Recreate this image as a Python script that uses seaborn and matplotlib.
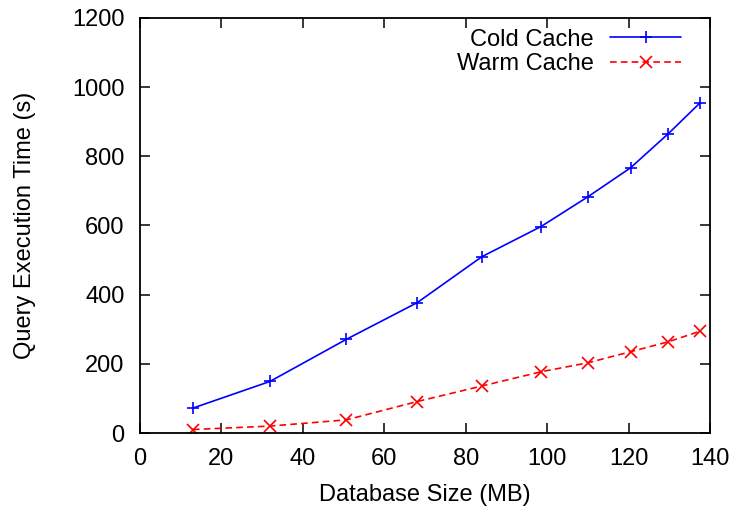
import matplotlib
matplotlib.use("Agg")
import matplotlib.pyplot as plt
import seaborn as sns
import pandas as pd

sizes = [13.0, 31.9, 50.7, 68.1, 84.0, 98.5, 110.0, 120.5, 129.8, 137.5]
cold = [72, 149, 271, 377, 510, 597, 683, 767, 866, 954]
warm = [10, 20, 38, 91, 136, 177, 203, 235, 264, 294]
series_names = ["Cold Cache", "Warm Cache"]
xticks = [0, 20, 40, 60, 80, 100, 120, 140]
yticks = [0, 200, 400, 600, 800, 1000, 1200]

df = pd.DataFrame({
    "size": sizes * 2,
    "time": cold + warm,
    "series": [series_names[0]] * len(sizes) + [series_names[1]] * len(sizes),
})

sns.set_style("ticks")
plt.rcParams["font.family"] = ["Liberation Sans", "DejaVu Sans"]
plt.rcParams["text.color"] = "black"
plt.rcParams["axes.labelcolor"] = "black"

fig = plt.figure(figsize=(7.37, 5.12), dpi=100)
ax = fig.add_axes([140 / 737, 1 - 433 / 512, 570 / 737, 415 / 512])

colors = {"Cold Cache": "#0000ff", "Warm Cache": "#ff0000"}
sns.lineplot(data=df, x="size", y="time", hue="series", style="series",
             palette=colors,
             dashes={"Cold Cache": "", "Warm Cache": (4, 2.5)},
             markers={"Cold Cache": "+", "Warm Cache": "x"},
             markersize=8.5, markeredgewidth=1.2, linewidth=1.2, ax=ax)

for ln in ax.lines:
    ln.set_markeredgecolor(ln.get_color())

ax.set_xlim(0, 140)
ax.set_ylim(0, 1200)
ax.set_xticks(xticks)
ax.set_yticks(yticks)
ax.set_xlabel("Database Size (MB)", fontsize=17, labelpad=10, color="black")
ax.set_ylabel("Query Execution Time (s)", fontsize=17, labelpad=26, color="black")
ax.tick_params(direction="in", length=7, width=1.1, top=True, right=True,
               labelsize=17, colors="black", pad=11)
for s in ax.spines.values():
    s.set_visible(True)
    s.set_linewidth(1.3)
    s.set_color("black")

handles, labels = ax.get_legend_handles_labels()
for h in handles:
    h.set_markeredgecolor(h.get_color())
leg = ax.legend(handles, labels, loc="upper right", frameon=False, markerfirst=False,
                fontsize=17, handlelength=3.0, handletextpad=0.7, borderaxespad=0.0,
                labelspacing=0.1, bbox_to_anchor=(0.966, 0.997))
for t in leg.get_texts():
    t.set_color("black")

fig.savefig("out.png", dpi=100)
